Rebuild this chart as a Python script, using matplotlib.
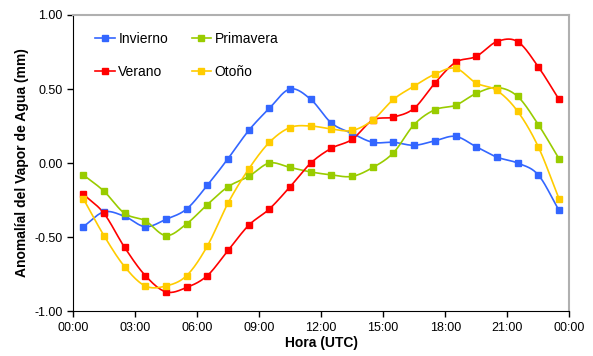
import numpy as np
import matplotlib.pyplot as plt

plt.rcParams['font.family'] = ['Liberation Sans', 'DejaVu Sans']

# datos (anomalía horaria, mm)
horas = np.arange(24) + 0.5
invierno = [-0.43, -0.33, -0.36, -0.43, -0.38, -0.31, -0.15, 0.03, 0.22, 0.37, 0.50, 0.43,
            0.27, 0.20, 0.14, 0.14, 0.12, 0.15, 0.18, 0.11, 0.04, 0.00, -0.08, -0.32]
primavera = [-0.08, -0.19, -0.34, -0.39, -0.49, -0.41, -0.28, -0.16, -0.09, 0.00, -0.03, -0.06,
             -0.08, -0.09, -0.03, 0.07, 0.26, 0.36, 0.39, 0.47, 0.51, 0.45, 0.26, 0.03]
verano = [-0.21, -0.34, -0.57, -0.76, -0.87, -0.84, -0.76, -0.59, -0.42, -0.31, -0.16, 0.00,
          0.10, 0.16, 0.29, 0.31, 0.37, 0.54, 0.68, 0.72, 0.82, 0.82, 0.65, 0.43]
otono = [-0.24, -0.49, -0.70, -0.83, -0.83, -0.76, -0.56, -0.27, -0.04, 0.14, 0.24, 0.25,
         0.23, 0.22, 0.29, 0.43, 0.52, 0.60, 0.64, 0.54, 0.49, 0.35, 0.11, -0.24]

series = [('Invierno', invierno, '#3366FF'),
          ('Primavera', primavera, '#99CC00'),
          ('Verano', verano, '#FF0000'),
          ('Otoño', otono, '#FFCC00')]

xticks = np.arange(0, 25, 3)
xlabels = ['00:00', '03:00', '06:00', '09:00', '12:00', '15:00', '18:00', '21:00', '00:00']
yticks = [-1.0, -0.5, 0.0, 0.5, 1.0]


def suavizar(x, y, n=20):
    # curva tipo Catmull-Rom (como la línea suavizada de Excel)
    x = np.asarray(x, float)
    y = np.asarray(y, float)
    px = np.concatenate([[2 * x[0] - x[1]], x, [2 * x[-1] - x[-2]]])
    py = np.concatenate([[2 * y[0] - y[1]], y, [2 * y[-1] - y[-2]]])
    t = np.linspace(0, 1, n)
    xs, ys = [], []
    for i in range(1, len(px) - 2):
        for p, out in ((px, xs), (py, ys)):
            p0, p1, p2, p3 = p[i - 1], p[i], p[i + 1], p[i + 2]
            out.extend(0.5 * ((2 * p1) + (-p0 + p2) * t + (2 * p0 - 5 * p1 + 4 * p2 - p3) * t ** 2
                              + (-p0 + 3 * p1 - 3 * p2 + p3) * t ** 3))
    return np.array(xs), np.array(ys)


fig = plt.figure(figsize=(5.93, 3.56), dpi=100)
ax = fig.add_axes([0.123, 0.126, 0.837, 0.832])

for nombre, vals, color in series:
    xs, ys = suavizar(horas, vals)
    ax.plot(xs, ys, color=color, lw=1.2, zorder=2)
    ax.plot(horas, vals, 's', color=color, ms=5, zorder=3)
    ax.plot([], [], '-s', color=color, ms=5, lw=1.2, label=nombre)

ax.set_xlim(0, 24)
ax.set_ylim(-1, 1)
ax.set_xticks(xticks)
ax.set_xticklabels(xlabels)
ax.set_yticks(yticks)
ax.set_yticklabels(['%.2f' % v for v in yticks])
ax.tick_params(labelsize=9, direction='out', length=4, width=1)
ax.spines['top'].set_color('#b0b0b0')
ax.spines['right'].set_color('#b0b0b0')
ax.spines['top'].set_linewidth(1.5)
ax.spines['right'].set_linewidth(1.5)
ax.set_xlabel('Hora (UTC)', fontsize=10, fontweight='bold', labelpad=2)
ax.set_ylabel('Anomalíal del Vapor de Agua (mm)', fontsize=10, fontweight='bold', labelpad=4)

# orden de la leyenda: Invierno, Verano | Primavera, Otoño
h, l = ax.get_legend_handles_labels()
orden = [0, 2, 1, 3]
ax.legend([h[i] for i in orden], [l[i] for i in orden], ncol=2, frameon=False, fontsize=10,
          loc='upper left', bbox_to_anchor=(0.02, 0.985), handlelength=1.4, handletextpad=0.25,
          columnspacing=1.7, labelspacing=1.35)

plt.savefig('out.png', dpi=100)
